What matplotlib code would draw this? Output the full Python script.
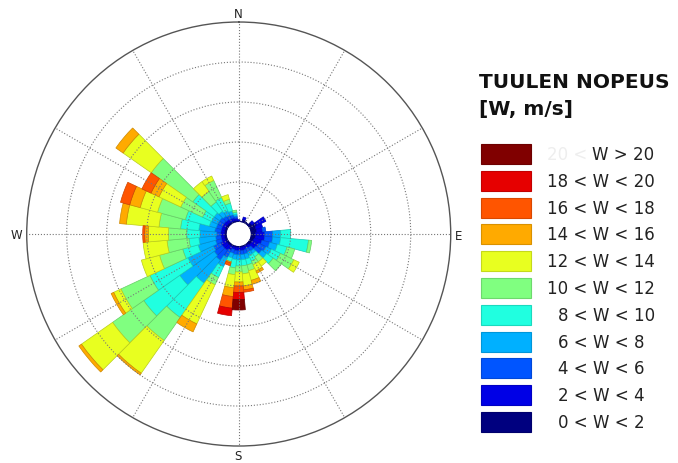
import numpy as np
import matplotlib.pyplot as plt
from matplotlib.patches import Rectangle

# wind directions (degrees, clockwise from north)
directions = list(range(0, 360, 10))

# frequency of each speed class per direction (read from the rose)
ws_0_2 = [.03, .02, .08, .05, .04, .10, .20, .15, .15, .12, .12, .10, .08, .08, .05, .04, .04, .04,
          .04, .04, .04, .05, .06, .06, .06, .06, .06, .06, .06, .06, .06, .06, .06, .05, .05, .04]
ws_2_4 = [.03, 0, .06, 0, 0, .07, .25, .17, .15, .23, .23, .20, .17, .14, .07, .06, .08, .08,
          .08, .08, .06, .10, .14, .14, .14, .09, .09, .09, .09, .09, .09, .09, .08, .07, .07, .06]
ws_4_6 = [0, 0, 0, 0, 0, 0, 0, 0, .08, .20, .20, .20, .20, .18, .10, .10, .10, .10,
          .10, .10, .10, .20, .30, .25, .20, .15, .13, .10, .15, .13, .13, .13, .11, .10, .08, .05]
ws_6_8 = [0, 0, 0, 0, 0, 0, 0, 0, 0, .20, .20, .20, .15, .15, .08, .10, .13, .13,
          .13, .12, .12, .25, .70, 1.05, .70, .45, .42, .42, .40, .18, .17, .17, .15, .13, .10, .05]
ws_8_10 = [0, 0, 0, 0, 0, 0, 0, 0, 0, .25, .70, .25, .25, .20, .10, .15, .15, .15,
           .15, .21, .10, .30, 1.05, 1.10, 1.05, .40, .25, .33, .46, .62, .25, .65, .28, .36, .20, .05]
ws_10_12 = [0, 0, 0, 0, 0, 0, 0, 0, 0, 0, .08, .20, .37, .25, .15, .10, .15, .20,
            .15, .17, 0, .20, .70, .95, .80, .60, .55, .46, .54, .72, .60, 1.27, .32, .47, .10, .05]
ws_12_14 = [0, 0, 0, 0, 0, 0, 0, 0, 0, 0, 0, 0, .15, 0, .13, .17, .25, .30,
            .25, .33, 0, 1.08, 1.00, .95, .20, .47, .60, .50, .82, .45, .60, .86, .30, .12, .12, 0]
ws_14_16 = [0, 0, 0, 0, 0, 0, 0, 0, 0, 0, 0, 0, 0, 0, 0, .06, .10, .10,
            .10, .22, .03, .22, .05, .08, .07, 0, 0, .09, .17, .27, .22, .22, 0, 0, 0, 0]
ws_16_18 = [0, 0, 0, 0, 0, 0, 0, 0, 0, 0, 0, 0, 0, 0, 0, 0, 0, .06,
            .16, .29, .07, 0, 0, 0, 0, 0, 0, .05, 0, .24, .25, 0, 0, 0, 0, 0]
ws_18_20 = [0, 0, 0, 0, 0, 0, 0, 0, 0, 0, 0, 0, 0, 0, 0, 0, 0, 0,
            .18, .19, 0, 0, 0, 0, 0, 0, 0, 0, 0, 0, 0, 0, 0, 0, 0, 0]
ws_20 = [0, 0, 0, 0, 0, 0, 0, 0, 0, 0, 0, 0, 0, 0, 0, 0, 0, 0,
         .26, 0, 0, 0, 0, 0, 0, 0, 0, 0, 0, 0, 0, 0, 0, 0, 0, 0]

series = [ws_0_2, ws_2_4, ws_4_6, ws_6_8, ws_8_10, ws_10_12,
          ws_12_14, ws_14_16, ws_16_18, ws_18_20, ws_20]
speed_labels = ['0 < W < 2', '2 < W < 4', '4 < W < 6', '6 < W < 8', '8 < W < 10',
                '10 < W < 12', '12 < W < 14', '14 < W < 16', '16 < W < 18',
                '18 < W < 20', 'W > 20']
compass = ['N', 'E', 'S', 'W']

colors = ['#00007f', '#0000e6', '#0055ff', '#00b0ff', '#20ffe0', '#80ff80',
          '#e8ff20', '#ffaa00', '#ff5500', '#e60000', '#800000']


def darker(c, f=0.8):
    import matplotlib.colors as mc
    r, g, b = mc.to_rgb(c)
    return (r * f, g * f, b * f)


fig = plt.figure(figsize=(6.78, 4.64), dpi=100)
ax = fig.add_axes([0.0394, 0.0366, 0.6254, 0.9138], projection='polar')
ax.set_theta_zero_location('N')
ax.set_theta_direction(-1)

theta = np.radians(directions)
width = np.radians(10)
bottom = np.zeros(len(directions))
for vals, c in zip(series, colors):
    vals = np.array(vals, dtype=float)
    m = vals > 0
    ax.bar(theta[m], vals[m], width=width, bottom=bottom[m], color=c,
           edgecolor=darker(c), linewidth=0.5, zorder=1)
    bottom += vals

ax.set_rorigin(-0.3)
ax.set_ylim(0, 5)
ax.set_yticks([1, 2, 3, 4])
ax.set_yticklabels([])
ax.set_xticks(np.radians(np.arange(0, 360, 30)))
ax.set_xticklabels([])
ax.set_axisbelow(False)
ax.grid(True, linestyle=':', color='#777777', linewidth=0.8)
ax.spines['polar'].set_color('#555555')
ax.spines['polar'].set_linewidth(1.0)
ax.spines['inner'].set_color('none')

# legend and compass labels drawn in pixel coordinates
lg = fig.add_axes([0, 0, 1, 1])
lg.set_xlim(0, 678)
lg.set_ylim(464, 0)
lg.axis('off')

for lab, (x, y) in zip(compass, [(238, 14), (459, 237), (238, 457), (16, 236)]):
    lg.text(x, y, lab, fontsize=8.5, ha='center', va='center', color='#222222')

lg.text(479, 82, 'TUULEN NOPEUS', fontsize=14.5, fontweight='bold',
        va='center', ha='left', color='#111111')
lg.text(479, 110, '[W, m/s]', fontsize=14.5, fontweight='bold',
        va='center', ha='left', color='#111111')

for i in range(len(series)):
    k = len(series) - 1 - i
    yc = 155 + 26.8 * i
    c = colors[k]
    lg.add_patch(Rectangle((481, yc - 10), 50, 20, facecolor=c,
                           edgecolor=darker(c, 0.85), linewidth=0.8))
    lab = speed_labels[k]
    if lab.startswith('W'):
        lg.text(547, yc, '20 <', fontsize=12, va='center', ha='left', color='#eeeeee')
        x0 = 592
    elif lab[1] == ' ':
        x0 = 558
    else:
        x0 = 547
    lg.text(x0, yc, lab, fontsize=12, va='center', ha='left', color='#222222')

fig.savefig('out.png', dpi=100)
